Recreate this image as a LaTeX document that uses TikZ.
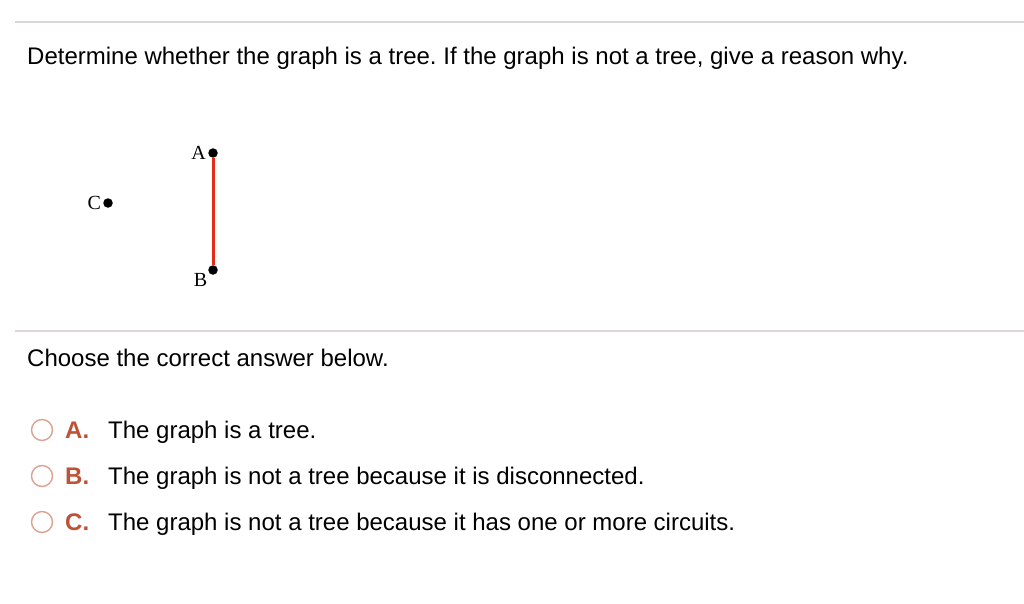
\documentclass[tikz,border=0pt]{standalone}
\usepackage{fontspec}
\setmainfont{Liberation Sans}
\newfontfamily\labelfont{Liberation Serif}
\usetikzlibrary{positioning}
\definecolor{rulegray}{RGB}{220,215,215}
\definecolor{optred}{RGB}{190,82,55}
\definecolor{ringcol}{RGB}{222,160,145}
\definecolor{edgered}{RGB}{228,45,25}
\frenchspacing

\tikzset{
	qtext/.style={anchor=base west, inner sep=0pt, font=\fontsize{24}{28}\selectfont},
	vertex/.style={circle, fill=black, inner sep=0pt, minimum size=9.5pt},
	vlabel/.style={inner sep=0pt, font=\labelfont\fontsize{20}{24}\selectfont},
	ring/.style={circle, draw=ringcol, line width=1.4pt, minimum size=21pt, inner sep=0pt},
	letter/.style={anchor=base west, inner sep=0pt, text=optred, font=\bfseries\fontsize{24}{28}\selectfont}
}

\begin{document}
\begin{tikzpicture}[x=1pt, y=-1pt]
	\useasboundingbox (0,0) rectangle (1024,604);
	\draw[rulegray, line width=1.8pt] (15,22) -- (1024,22);
	\draw[rulegray, line width=1.8pt] (15,331) -- (1024,331);
	
	\node[qtext] (question) at (27,65) {Determine whether the graph is a tree. If the graph is not a tree, give a reason why.};
	
	\node[vertex] (A) at (213,153) {};
	\node[vertex] (B) at (213,270) {};
	\node[vertex] (C) at (108,203) {};
	\node[vlabel, left=2pt of A] (labA) {A};
	\node[vlabel, below left=0pt and 2pt of B] (labB) {B};
	\node[vlabel, left=2pt of C] (labC) {C};
	\draw[edgered, line width=3pt] (A) -- (B);
	
	\node[qtext] (choose) at (27,366) {Choose the correct answer below.};
	\foreach \y/\l/\t in {438/A/The graph is a tree., 484/B/The graph is not a tree because it is disconnected., 530/C/The graph is not a tree because it has one or more circuits.}
	{
		\node[ring] (ring\l) at (42,\y-8) {};
		\node[letter] (let\l) at (65,\y) {\l.};
		\node[qtext] (opt\l) at (108,\y) {\t};
	}
\end{tikzpicture}
\end{document}
